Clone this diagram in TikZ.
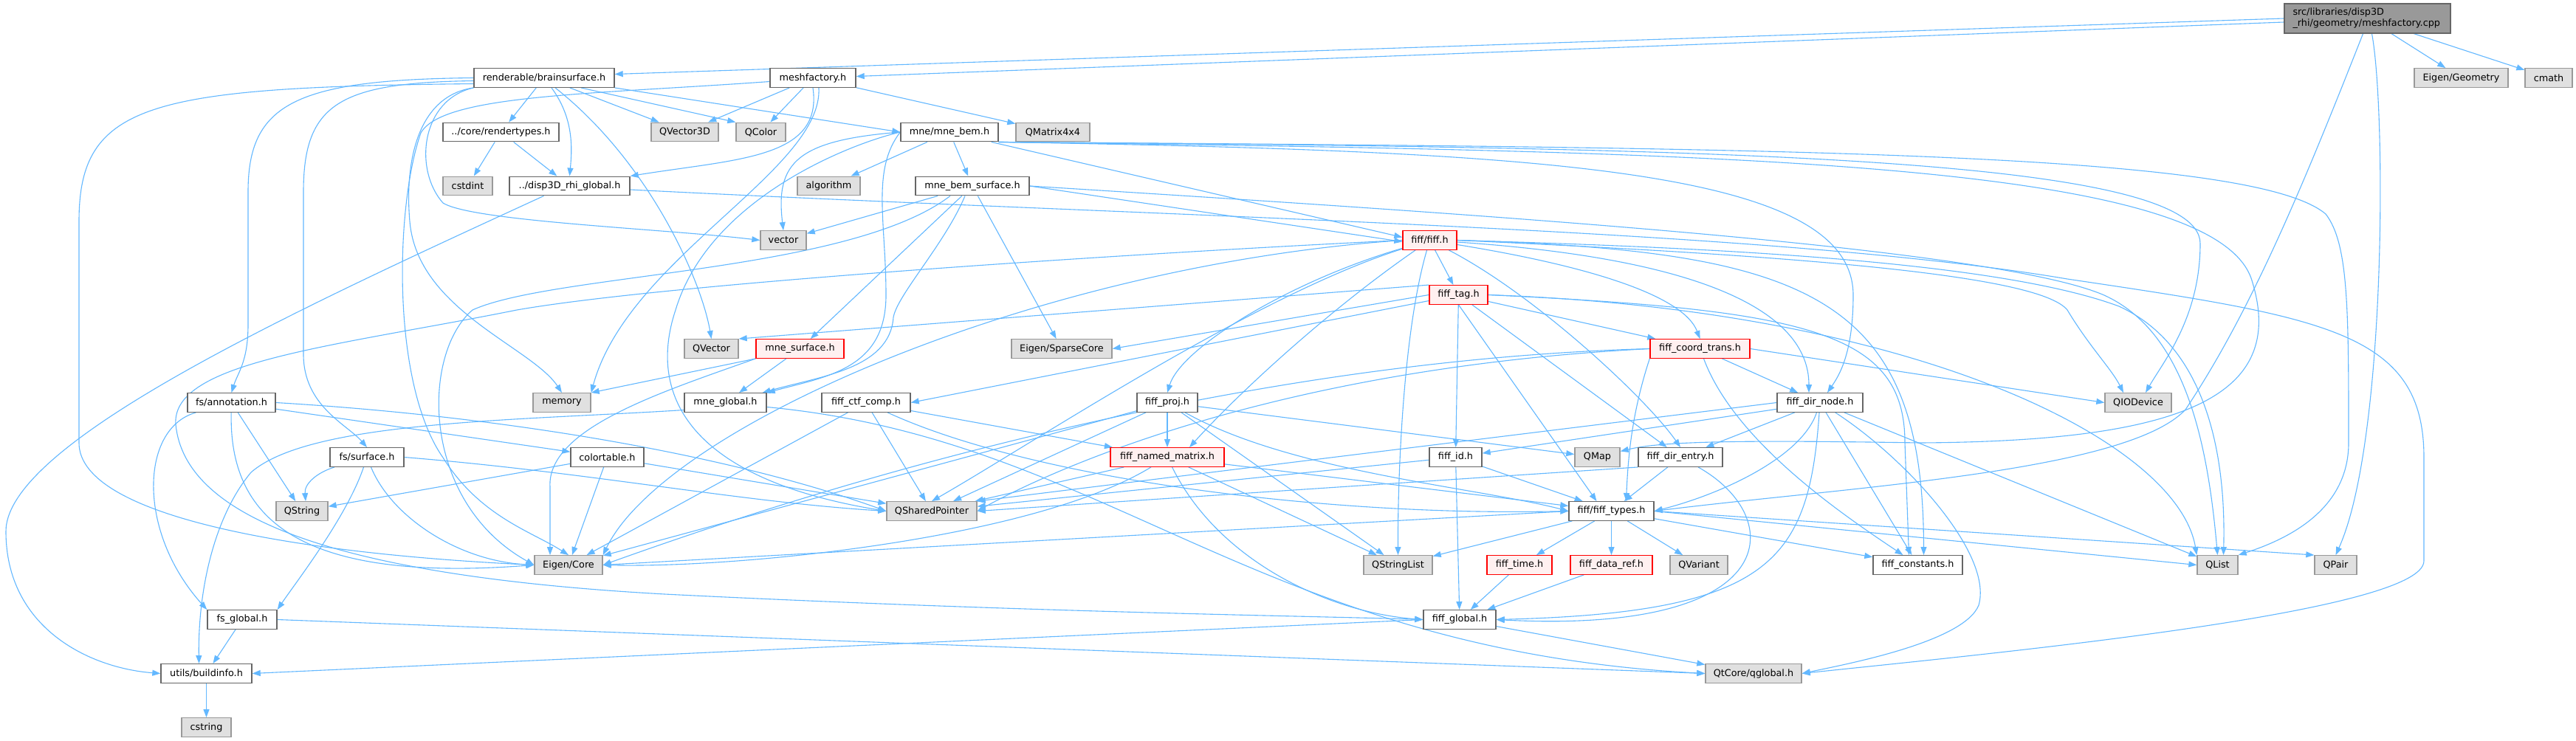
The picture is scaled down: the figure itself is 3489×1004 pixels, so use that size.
\documentclass[tikz,border=0pt]{standalone}
\usepackage{fontspec}
\newfontfamily\dvs{DejaVu Sans}
\usetikzlibrary{arrows.meta}
\pgfdeclarelayer{bg}
\pgfsetlayers{bg,main}
\definecolor{edgec}{HTML}{63B8FF}
\definecolor{wbord}{HTML}{666666}
\definecolor{gfill}{HTML}{E0E0E0}
\definecolor{gbord}{HTML}{999999}
\definecolor{rfill}{HTML}{FFF0F0}
\definecolor{rbord}{HTML}{FF0000}
\definecolor{mfill}{HTML}{999999}
\begin{document}
\begin{tikzpicture}[x=1pt,y=-1pt,
 nd/.style={draw=wbord, fill=white, line width=1.4pt, minimum height=25.5pt, inner sep=0pt, font=\dvs\fontsize{12.8}{15}\selectfont},
 gn/.style={nd, draw=gbord, fill=gfill},
 rn/.style={nd, draw=rbord, fill=rfill},
 mn/.style={nd, fill=mfill},
 dep/.style={draw=edgec, line width=1.1pt, -{Triangle[length=11pt,width=8pt]}}
]
\useasboundingbox (0,0) rectangle (3489,1004);
\begin{pgfonlayer}{bg}
\fill[white] (0,0) rectangle (3489,1004);
\end{pgfonlayer}

% ---------- nodes ----------
\node[mn, text width=202pt, align=left, inner xsep=11.5pt, minimum height=40pt] (main) at (3206.5,25) {src/libraries/disp3D\\\_rhi/geometry/meshfactory.cpp};
\node[nd, minimum width=190pt] (bs) at (737,105.5) {renderable/brainsurface.h};
\node[nd, minimum width=116pt] (mf) at (1101,105.5) {meshfactory.h};
\node[gn, minimum width=127pt] (eg) at (3333.5,105.5) {Eigen/Geometry};
\node[gn, minimum width=64pt] (cm) at (3452,105.5) {cmath};
\node[nd, minimum width=157pt] (rt) at (678.5,179) {../core/rendertypes.h};
\node[gn, minimum width=91pt] (qvt) at (927.5,179) {QVector3D};
\node[gn, minimum width=67pt] (qc) at (1030.5,179) {QColor};
\node[nd, minimum width=132pt] (mb) at (1286,179) {mne/mne\_bem.h};
\node[gn, minimum width=100pt] (qm) at (1426,179) {QMatrix4x4};
\node[gn, minimum width=67pt] (csi) at (633.5,252) {cstdint};
\node[nd, minimum width=163pt] (dg) at (771.5,252) {../disp3D\_rhi\_global.h};
\node[gn, minimum width=85pt] (alg) at (1122.5,252) {algorithm};
\node[nd, minimum width=154pt] (mbs) at (1317,252) {mne\_bem\_surface.h};
\node[gn, minimum width=62pt] (vec) at (1061,325.5) {vector};
\node[rn, minimum width=73pt] (ff) at (1936.5,325.5) {fiff/fiff.h};
\node[rn, minimum width=79pt] (ftg) at (1975.5,399.5) {fiff\_tag.h};
\node[gn, minimum width=73pt] (qvec) at (963.5,472.5) {QVector};
\node[rn, minimum width=119pt] (ms) at (1083.5,472.5) {mne\_surface.h};
\node[gn, minimum width=136pt] (sc) at (1438,472.5) {Eigen/SparseCore};
\node[rn, minimum width=135pt] (fct) at (2302.5,472.5) {fiff\_coord\_trans.h};
\node[nd, minimum width=119pt] (fsa) at (313.5,545.5) {fs/annotation.h};
\node[gn, minimum width=78pt] (mem) at (761,545.5) {memory};
\node[nd, minimum width=111pt] (mg) at (982.5,545.5) {mne\_global.h};
\node[nd, minimum width=120pt] (fcc) at (1173,545.5) {fiff\_ctf\_comp.h};
\node[nd, minimum width=82pt] (fp) at (1581,545.5) {fiff\_proj.h};
\node[nd, minimum width=116pt] (fdn) at (2465,545.5) {fiff\_dir\_node.h};
\node[gn, minimum width=90pt] (qio) at (2896,545.5) {QIODevice};
\node[nd, minimum width=100pt] (fss) at (497,619.5) {fs/surface.h};
\node[nd, minimum width=99pt] (ct) at (822.5,619.5) {colortable.h};
\node[rn, minimum width=154pt] (fnm) at (1581,619.5) {fiff\_named\_matrix.h};
\node[nd, minimum width=71pt] (fid) at (1971.5,619.5) {fiff\_id.h};
\node[gn, minimum width=61pt] (qmap) at (2163.5,619.5) {QMap};
\node[nd, minimum width=114pt] (fde) at (2276,619.5) {fiff\_dir\_entry.h};
\node[gn, minimum width=70pt] (qs) at (409,692.5) {QString};
\node[gn, minimum width=122pt] (qsp) at (1262,692.5) {QSharedPointer};
\node[nd, minimum width=115pt] (ft) at (2182.5,692.5) {fiff/fiff\_types.h};
\node[gn, minimum width=92pt] (ec) at (770,765.5) {Eigen/Core};
\node[gn, minimum width=93pt] (qsl) at (1893.5,765.5) {QStringList};
\node[rn, minimum width=88pt] (ftm) at (2058,765.5) {fiff\_time.h};
\node[rn, minimum width=111pt] (fdr) at (2182.5,765.5) {fiff\_data\_ref.h};
\node[gn, minimum width=78pt] (qvar) at (2301,765.5) {QVariant};
\node[nd, minimum width=121pt] (fc) at (2597.5,765.5) {fiff\_constants.h};
\node[gn, minimum width=55pt] (ql) at (3003.5,765.5) {QList};
\node[gn, minimum width=57pt] (qp) at (3163.5,765.5) {QPair};
\node[nd, minimum width=94pt] (fsg) at (328,839.5) {fs\_global.h};
\node[nd, minimum width=98pt] (fg) at (1977,839.5) {fiff\_global.h};
\node[nd, minimum width=123pt] (bi) at (279.5,912.5) {utils/buildinfo.h};
\node[gn, minimum width=130pt] (qg) at (2375,912.5) {QtCore/qglobal.h};
\node[gn, minimum width=67pt] (cs) at (279.5,985.5) {cstring};

% ---------- edges ----------
\begin{pgfonlayer}{bg}
% main file
\draw[dep] (main.west) -- ([yshift=5pt]bs.east);
\draw[dep] ([yshift=-5pt]main.west) -- ([yshift=2pt]mf.east);
\draw[dep] (main) -- (eg);
\draw[dep] (main) -- (cm);
\draw[dep] ([xshift=-6pt]main.south) .. controls (3120,250) and (3050,420) .. (2960,555) .. controls (2880,640) and (2500,660) .. (ft.east);
\draw[dep] ([xshift=6pt]main.south) .. controls (3232,150) and (3232,600) .. (qp.north);

% brainsurface
\draw[dep] (bs) -- (rt);
\draw[dep] ([xshift=10pt]bs.south) .. controls (777,160) and (775,200) .. (dg.north);
\draw[dep] (bs) -- (qvt);
\draw[dep] ([xshift=50pt]bs.south) -- (qc.north west);
\draw[dep] (bs.south east) -- (mb.west);
\draw[dep] ([xshift=15pt]bs.south) .. controls (880,220) and (950,380) .. (qvec.north);
\draw[dep] (bs.west) .. controls (400,108) and (336,140) .. (336,260) -- (336,440) .. controls (336,490) and (322,505) .. (fsa.north);
\draw[dep] ([yshift=-4pt]bs.west) .. controls (460,112) and (411,140) .. (411,260) -- (411,480) .. controls (411,550) and (470,575) .. (fss.north);
\draw[dep] ([yshift=-8pt]bs.west) .. controls (200,118) and (107,140) .. (107,300) -- (107,600) .. controls (107,700) and (400,750) .. (ec.west);
\draw[dep] (bs.south west) .. controls (570,135) and (560,230) .. (600,275) .. controls (640,300) and (900,310) .. (vec.west);
\draw[dep] (bs.south west) .. controls (565,130) and (548,220) .. (555,300) .. controls (565,420) and (720,470) .. (mem.north);

% meshfactory
\draw[dep] (mf) -- (qvt);
\draw[dep] (mf) -- (qc);
\draw[dep] (mf) -- (qm);
\draw[dep] (mf.south) .. controls (1115,215) and (1000,215) .. (dg.north east);
\draw[dep] ([xshift=8pt]mf.south) .. controls (1115,230) and (850,350) .. (mem.north east);
\draw[dep] ([yshift=-5pt]mf.west) .. controls (800,128) and (600,128) .. (570,180) .. controls (535,280) and (530,520) .. (600,620) .. controls (650,700) and (720,720) .. (ec.north);

% rendertypes, disp3D global
\draw[dep] (rt) -- (csi);
\draw[dep] (rt) -- (dg);
\draw[dep] ([xshift=-35pt]dg.south) .. controls (400,420) and (8,600) .. (8,720) .. controls (8,850) and (120,905) .. (bi.west);
\draw[dep] ([yshift=-5pt]dg.east) .. controls (1600,295) and (2400,310) .. (2800,378) .. controls (3150,430) and (3283,450) .. (3283,620) -- (3283,760) .. controls (3283,830) and (2700,885) .. (qg.east);

% mne_bem
\draw[dep] (mb) -- (alg);
\draw[dep] (mb) -- (mbs);
\draw[dep] (mb.west) .. controls (1080,190) and (1050,220) .. (vec.north);
\draw[dep] ([xshift=-10pt]mb.south east) -- ([yshift=4pt]ff.west);
\draw[dep] (mb.west) .. controls (1180,230) and (1200,300) .. (1200,400) .. controls (1200,500) and (1120,510) .. (mg.north east);
\draw[dep] (mb.west) .. controls (1150,195) and (960,270) .. (915,420) .. controls (875,540) and (940,650) .. (qsp.west);
\draw[dep] (mb.south east) .. controls (2100,205) and (2510,230) .. (2510,400) .. controls (2510,480) and (2490,510) .. ([xshift=10pt]fdn.north);
\draw[dep] (mb.south east) .. controls (2300,200) and (2980,210) .. (2980,330) .. controls (2980,430) and (2930,490) .. ([xshift=10pt]qio.north);
\draw[dep] (mb.south east) .. controls (2300,205) and (3000,215) .. (3050,380) .. controls (3100,540) and (2950,598) .. (2600,600) .. controls (2350,596) and (2250,598) .. ([yshift=8pt]qmap.east);
\draw[dep] (mb.south east) .. controls (2400,200) and (3050,205) .. (3150,290) .. controls (3181,330) and (3181,420) .. (3181,600) .. controls (3181,690) and (3100,730) .. (ql.north east);

% mne_bem_surface
\draw[dep] (mbs) -- (vec);
\draw[dep] (mbs) -- (sc);
\draw[dep] (mbs) -- (ms);
\draw[dep] ([xshift=-10pt]mbs.south) .. controls (1280,330) and (1215,400) .. (1210,430) .. controls (1205,500) and (1110,510) .. ([xshift=-6pt]mg.north east);
\draw[dep] ([xshift=-30pt]mbs.south) .. controls (1150,370) and (750,370) .. (640,420) .. controls (570,480) and (570,680) .. (ec.west);
\draw[dep] (mbs.east) -- ([yshift=-2pt]ff.west);
\draw[dep] (mbs.east) .. controls (2000,290) and (2700,335) .. (2850,400) .. controls (2960,450) and (2990,600) .. (ql.north);

% fiff.h
\draw[dep] (ff) -- (ftg);
\draw[dep] (ff) .. controls (2150,360) and (2280,400) .. (fct.north);
\draw[dep] (ff) .. controls (2300,350) and (2450,420) .. ([xshift=-15pt]fdn.north);
\draw[dep] (ff) .. controls (1750,380) and (1600,470) .. (fp.north);
\draw[dep] (ff) .. controls (1800,420) and (1680,530) .. ([xshift=30pt]fnm.north);
\draw[dep] (ff) .. controls (2080,400) and (2230,540) .. (fde.north);
\draw[dep] (ff) .. controls (1900,450) and (1893,650) .. (qsl.north);
\draw[dep] (ff) .. controls (1700,400) and (1400,600) .. (qsp.north);
\draw[dep] (ff.west) .. controls (1400,360) and (900,580) .. (ec.north east);
\draw[dep] (ff.east) .. controls (2300,335) and (2700,352) .. (2870,415) .. controls (2990,470) and (3015,620) .. ([xshift=8pt]ql.north);
\draw[dep] (ff.east) .. controls (2400,345) and (2760,370) .. (2800,420) .. controls (2830,470) and (2860,500) .. ([xshift=-20pt]qio.north);
\draw[dep] (ff.east) .. controls (2450,340) and (2605,400) .. ([xshift=8pt]fc.north);
\draw[dep] (ff.west) .. controls (1500,345) and (900,385) .. (700,420) .. controls (450,470) and (232,490) .. (238,575) .. controls (250,700) and (450,780) .. (900,805) .. controls (1400,830) and (1800,835) .. (fg.west);

% fiff_tag
\draw[dep] (ftg) -- (fct);
\draw[dep] (ftg) -- (fid);
\draw[dep] (ftg.south) -- ([xshift=-20pt]ft.north);
\draw[dep] (ftg) -- (fde);
\draw[dep] (ftg.north west) -- (qvec.north east);
\draw[dep] (ftg.west) -- (sc.east);
\draw[dep] ([yshift=-8pt]ftg.west) -- (fcc.east);
\draw[dep] (ftg.east) .. controls (2600,420) and (2950,600) .. (ql.north west);
\draw[dep] (ftg.east) .. controls (2450,420) and (2580,450) .. (2580,600) -- ([xshift=-12pt]fc.north);

% fiff_coord_trans
\draw[dep] (fct) -- (fdn);
\draw[dep] (fct.south west) .. controls (2210,560) and (2205,620) .. ([xshift=20pt]ft.north);
\draw[dep] (fct.east) -- (qio.west);
\draw[dep] (fct.west) .. controls (1600,490) and (1000,700) .. (ec.east);
\draw[dep] (fct.west) .. controls (1700,500) and (1400,650) .. (qsp.east);
\draw[dep] (fct) .. controls (2350,600) and (2500,700) .. (fc);

% fiff_proj
\draw[dep] (fp) -- (fnm);
\draw[dep] (fp) .. controls (1750,640) and (2000,660) .. (ft.west);
\draw[dep] (fp) -- (qsp);
\draw[dep] (fp) -- (ec);
\draw[dep] (fp) -- (qsl);
\draw[dep] (fp) -- (qmap);

% fiff_named_matrix
\draw[dep] (fnm) -- (qsp);
\draw[dep] (fnm) .. controls (1400,730) and (1000,770) .. (ec.east);
\draw[dep] (fnm) -- (ft);
\draw[dep] (fnm) .. controls (1650,760) and (1800,830) .. (fg.west);
\draw[dep] (fnm) -- (qsl);

% fiff_ctf_comp
\draw[dep] (fcc) -- (fnm);
\draw[dep] (fcc) -- (qsp);
\draw[dep] (fcc) -- (ec);
\draw[dep] (fcc) .. controls (1400,650) and (1800,700) .. (ft.west);

% fiff_dir_node
\draw[dep] (fdn) -- (fde);
\draw[dep] (fdn) -- (fid);
\draw[dep] (fdn) .. controls (2440,620) and (2330,670) .. (ft.east);
\draw[dep] (fdn) -- (ql);
\draw[dep] (fdn) -- (fc);
\draw[dep] (fdn) .. controls (2450,760) and (2400,830) .. (fg.east);
\draw[dep] (fdn.west) -- (qsp.north east);
\draw[dep] (fdn) .. controls (2580,620) and (2700,750) .. (2680,820) .. controls (2660,870) and (2500,900) .. (qg.east);

% fiff_id, fiff_dir_entry
\draw[dep] (fid) -- (fg);
\draw[dep] (fid) -- (ft);
\draw[dep] (fid) -- (qsp);
\draw[dep] (fde) -- (ft);
\draw[dep] (fde) .. controls (2420,700) and (2420,860) .. (fg.east);
\draw[dep] (fde.south west) -- (qsp.east);

% fiff_types
\draw[dep] (ft) -- (qsl);
\draw[dep] (ft) -- (ftm);
\draw[dep] (ft) -- (fdr);
\draw[dep] (ft) -- (qvar);
\draw[dep] (ft) -- (fc);
\draw[dep] (ft.east) -- (ql.west);
\draw[dep] (ft.east) -- (qp.north west);
\draw[dep] (ft.west) -- (ec.east);

% globals
\draw[dep] (ftm) -- (fg);
\draw[dep] (fdr) -- (fg);
\draw[dep] (fg) -- (qg);
\draw[dep] (fg.west) -- (bi.east);
\draw[dep] (fsg) -- (bi);
\draw[dep] (fsg.east) -- (qg.west);
\draw[dep] (bi) -- (cs);

% mne_surface, mne_global
\draw[dep] (ms) -- (mg);
\draw[dep] (ms.south west) -- (mem.north east);
\draw[dep] (ms.south west) .. controls (900,530) and (740,580) .. (745,660) -- ([xshift=-25pt]ec.north);
\draw[dep] ([yshift=-6pt]mg.east) .. controls (1500,595) and (1700,880) .. (qg.west);
\draw[dep] ([yshift=-10pt]mg.west) .. controls (700,570) and (420,570) .. (340,640) .. controls (290,700) and (268,800) .. ([xshift=-10pt]bi.north);

% fs
\draw[dep] (fsa) -- (ct);
\draw[dep] (fsa) .. controls (190,580) and (185,720) .. (fsg.north west);
\draw[dep] (fsa) .. controls (310,700) and (400,790) .. (ec.west);
\draw[dep] (fsa) -- (qs);
\draw[dep] (fsa.east) .. controls (700,565) and (1000,620) .. (qsp.west);
\draw[dep] (fss) .. controls (470,700) and (400,790) .. (fsg.north east);
\draw[dep] (fss) .. controls (530,700) and (620,760) .. (ec.west);
\draw[dep] (fss.east) .. controls (800,640) and (1000,680) .. (qsp.west);
\draw[dep] (fss) .. controls (430,640) and (412,655) .. ([xshift=5pt]qs.north);
\draw[dep] (ct) -- (qs);
\draw[dep] (ct) -- (ec);
\draw[dep] (ct) -- (qsp);
\end{pgfonlayer}
\end{tikzpicture}
\end{document}
